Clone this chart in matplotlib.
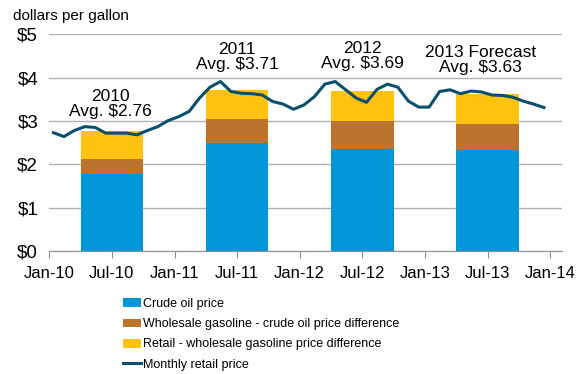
import matplotlib.pyplot as plt
import numpy as np

plt.rcParams['font.family'] = ['Liberation Sans', 'DejaVu Sans']

# annual bars (centered on July of each year)
years = ["2010", "2011", "2012", "2013 Forecast"]
averages = [2.76, 3.71, 3.69, 3.63]
crude = [1.77, 2.49, 2.36, 2.34]
wholesale_diff = [0.35, 0.55, 0.63, 0.59]
retail_diff = [0.64, 0.67, 0.70, 0.70]

# monthly retail price Jan-10 .. Dec-13
monthly = [2.73, 2.64, 2.78, 2.87, 2.85, 2.72, 2.72, 2.72, 2.68, 2.78, 2.87, 3.01,
           3.10, 3.22, 3.53, 3.78, 3.91, 3.68, 3.64, 3.63, 3.60, 3.45, 3.39, 3.27,
           3.37, 3.56, 3.85, 3.91, 3.72, 3.53, 3.43, 3.73, 3.85, 3.78, 3.46, 3.32,
           3.32, 3.68, 3.72, 3.63, 3.69, 3.67, 3.60, 3.59, 3.55, 3.46, 3.39, 3.31]

tick_labels = ["Jan-10", "Jul-10", "Jan-11", "Jul-11", "Jan-12", "Jul-12", "Jan-13", "Jul-13", "Jan-14"]

fig = plt.figure(figsize=(5.87, 3.74), dpi=100)
ax = fig.add_axes([49.3 / 587, 1 - 251 / 374, (561.7 - 49.3) / 587, (251 - 34.3) / 374])

centers = np.array([6, 18, 30, 42])
crude = np.array(crude)
wd = np.array(wholesale_diff)
rd = np.array(retail_diff)
ax.bar(centers, crude, width=6, color="#0096d7", label="Crude oil price", zorder=2)
ax.bar(centers, wd, width=6, bottom=crude, color="#bb732e",
       label="Wholesale gasoline - crude oil price difference", zorder=2)
ax.bar(centers, rd, width=6, bottom=crude + wd, color="#ffc20e",
       label="Retail - wholesale gasoline price difference", zorder=2)

months = np.arange(len(monthly)) + 0.4
ax.plot(months, monthly, color="#0b4f6e", lw=2.2, label="Monthly retail price", zorder=3)

text_pos = [(5.9, 3.40), (18, 4.48), (30, 4.49), (41.3, 4.41)]
for (x, y), yr, avg in zip(text_pos, years, averages):
    ax.text(x, y, f"{yr}\nAvg. ${avg:.2f}", ha="center", va="center", fontsize=12.5,
            linespacing=1.0)

ax.set_xlim(0, 49.1)
ax.set_ylim(0, 5)
ax.set_xticks(np.arange(0, 49, 6))
ax.set_xticklabels(tick_labels, fontsize=12)
ax.set_yticks(range(6))
ax.set_yticklabels([f"${v}" for v in range(6)], fontsize=13.5)
ax.yaxis.grid(True, color="#b0b0b0", lw=1, zorder=0)
ax.set_axisbelow(True)
for s in ["top", "right", "left"]:
    ax.spines[s].set_visible(False)
ax.spines["bottom"].set_color("#909090")
ax.tick_params(axis="y", length=0, pad=8)
ax.tick_params(axis="x", length=5, color="#909090", direction="out", pad=6)

fig.text(13 / 587, 1 - 16 / 374, "dollars per gallon", fontsize=11, va="center")

h, l = ax.get_legend_handles_labels()
order = [1, 2, 3, 0]
fig.legend([h[i] for i in order], [l[i] for i in order], loc="upper left",
           bbox_to_anchor=(118 / 587, 1 - 293 / 374), frameon=False, fontsize=9,
           handlelength=1.45, handletextpad=0.15, labelspacing=0.66, borderaxespad=0)

fig.savefig("out.png", dpi=100)
